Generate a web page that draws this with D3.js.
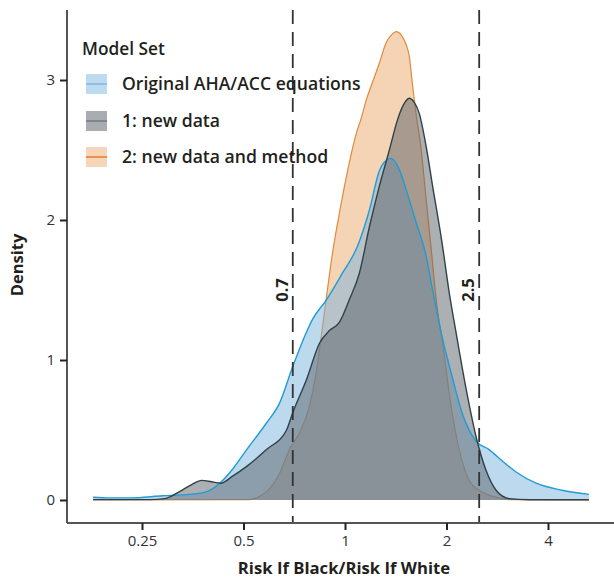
<!DOCTYPE html>
<html>
<head>
<meta charset="utf-8">
<script src="https://cdn.jsdelivr.net/npm/d3@7"></script>
<style>
  html, body { margin: 0; padding: 0; background: #fff; }
  svg { display: block; font-family: "Open Sans", sans-serif; }
</style>
</head>
<body>
<svg id="chart" width="614" height="580"></svg>
<script>
// Ratio of predicted risk (Black / White) and kernel density, per model set
const ratioOriginal = [0.179, 0.2005, 0.23, 0.288, 0.346, 0.389, 0.425, 0.464, 0.511, 0.585, 0.639, 0.699, 0.769, 0.801, 0.881, 0.982, 1.088, 1.181, 1.264, 1.317, 1.372, 1.449, 1.530, 1.627, 1.741, 1.802, 1.864, 1.903, 2.079, 2.226, 2.448, 2.676, 2.924, 3.216, 3.686, 4.40, 5.29];
const densityOriginal = [0.02, 0.015, 0.015, 0.03, 0.04, 0.06, 0.12, 0.22, 0.36, 0.55, 0.69, 0.95, 1.2, 1.29, 1.43, 1.62, 1.81, 2.07, 2.35, 2.42, 2.44, 2.36, 2.19, 1.98, 1.74, 1.55, 1.37, 1.26, 0.88, 0.62, 0.42, 0.36, 0.28, 0.2, 0.12, 0.07, 0.04];

const ratioNewData = [0.179, 0.264, 0.292, 0.323, 0.351, 0.376, 0.402, 0.428, 0.464, 0.511, 0.585, 0.671, 0.699, 0.769, 0.840, 0.899, 0.963, 1.030, 1.103, 1.181, 1.264, 1.354, 1.429, 1.489, 1.551, 1.605, 1.661, 1.742, 1.814, 1.942, 2.038, 2.137, 2.288, 2.449, 2.621, 2.806, 3.067, 3.514, 5.29];
const densityNewData = [0.003, 0.003, 0.01, 0.06, 0.11, 0.14, 0.13, 0.12, 0.17, 0.24, 0.36, 0.5, 0.62, 0.86, 1.12, 1.21, 1.27, 1.43, 1.62, 1.95, 2.24, 2.5, 2.71, 2.82, 2.87, 2.84, 2.76, 2.52, 2.26, 1.83, 1.48, 1.19, 0.79, 0.45, 0.21, 0.07, 0.01, 0.002, 0.002];

const ratioNewMethod = [0.179, 0.521, 0.551, 0.5853, 0.6396, 0.6844, 0.7329, 0.7846, 0.8229, 0.8514, 0.881, 0.9176, 0.9625, 1.0096, 1.0808, 1.1182, 1.157, 1.2053, 1.2642, 1.326, 1.372, 1.4195, 1.4687, 1.5197, 1.551, 1.583, 1.6158, 1.683, 1.7417, 1.802, 1.864, 1.942, 2.079, 2.181, 2.335, 2.499, 2.675, 2.806, 3.066, 5.29];
const densityNewMethod = [0, 0.003, 0.02, 0.06, 0.19, 0.36, 0.48, 0.67, 0.92, 1.18, 1.45, 1.76, 2.05, 2.31, 2.62, 2.73, 2.86, 2.98, 3.12, 3.27, 3.32, 3.345, 3.32, 3.25, 3.17, 2.98, 2.80, 2.5, 2.14, 1.79, 1.43, 1.14, 0.62, 0.36, 0.14, 0.07, 0.035, 0.02, 0.003, 0];

const legendLabels = ["Original AHA/ACC equations", "1: new data", "2: new data and method"];
const xTicks = [0.25, 0.5, 1, 2, 4];
const xTickLabels = ["0.25", "0.5", "1", "2", "4"];
const yTicks = [0, 1, 2, 3];
const cutoffs = [0.7, 2.5];
const cutoffLabels = ["0.7", "2.5"];

const svg = d3.select("#chart");

const x = d3.scaleLog().base(2).domain([0.25, 4]).range([142, 548]);
const y = d3.scaleLinear().domain([0, 3]).range([500, 80]);

const plotLeft = 67, plotRight = 614, plotTop = 10, plotBottom = 523;

const zip = (a, b) => a.map((v, i) => [v, b[i]]);

const series = {
  original: { data: zip(ratioOriginal, densityOriginal), fill: "#79b3dd", line: "#1f9bd7", keyFill: "#bddbf0", keyLine: "#8fc1e3" },
  newData: { data: zip(ratioNewData, densityNewData), fill: "#5b6167", line: "#2f4249", keyFill: "#a9adb1", keyLine: "#7f878b" },
  newMethod: { data: zip(ratioNewMethod, densityNewMethod), fill: "#eba76b", line: "#e08a3c", keyFill: "#f6d5b8", keyLine: "#e9924a" }
};

const area = d3.area()
  .x(d => x(d[0]))
  .y0(y(0))
  .y1(d => y(d[1]))
  .curve(d3.curveMonotoneX);

const line = d3.line()
  .x(d => x(d[0]))
  .y(d => y(d[1]))
  .curve(d3.curveMonotoneX);

const marks = svg.append("g");

// back layer: new data and method
marks.append("path").attr("d", area(series.newMethod.data))
  .attr("fill", series.newMethod.fill).attr("fill-opacity", 0.5);
marks.append("path").attr("d", line(series.newMethod.data))
  .attr("fill", "none").attr("stroke", series.newMethod.line).attr("stroke-width", 1.2);

// original equations
marks.append("path").attr("d", area(series.original.data))
  .attr("fill", series.original.fill).attr("fill-opacity", 0.5);

// new data
marks.append("path").attr("d", area(series.newData.data))
  .attr("fill", series.newData.fill).attr("fill-opacity", 0.5);

marks.append("path").attr("d", line(series.original.data))
  .attr("fill", "none").attr("stroke", series.original.line).attr("stroke-width", 1.4);
marks.append("path").attr("d", line(series.newData.data))
  .attr("fill", "none").attr("stroke", series.newData.line).attr("stroke-width", 1.4);

// cutoff reference lines
const cut = svg.append("g");
cut.selectAll("line").data(cutoffs).join("line")
  .attr("x1", d => x(d)).attr("x2", d => x(d))
  .attr("y1", plotTop).attr("y2", plotBottom)
  .attr("stroke", "#333").attr("stroke-width", 1.8)
  .attr("stroke-dasharray", "14,8");
cut.selectAll("text").data(cutoffs).join("text")
  .attr("transform", d => `translate(${x(d) - 5},${290}) rotate(-90)`)
  .attr("text-anchor", "middle")
  .attr("font-size", 16.5).attr("font-weight", 700).attr("fill", "#231f20")
  .text((d, i) => cutoffLabels[i]);

// axes
const xAxis = d3.axisBottom(x).tickValues(xTicks).tickFormat((d, i) => xTickLabels[i]).tickSize(7).tickSizeOuter(0);
const gx = svg.append("g").attr("transform", `translate(0,${plotBottom})`).call(xAxis);
gx.select(".domain").attr("d", `M${plotLeft},0H${plotRight}`).attr("stroke", "#555").attr("stroke-width", 2);
gx.selectAll(".tick line").attr("stroke", "#222").attr("stroke-width", 2);
gx.selectAll(".tick text").attr("font-size", 15).attr("fill", "#333").attr("dy", "0.71em").attr("y", 12)
  .attr("font-family", "Open Sans, sans-serif");

const yAxis = d3.axisLeft(y).tickValues(yTicks).tickFormat(d3.format("d")).tickSize(7).tickSizeOuter(0);
const gy = svg.append("g").attr("transform", `translate(${plotLeft},0)`).call(yAxis);
gy.select(".domain").attr("d", `M0,${plotTop}V${plotBottom}`).attr("stroke", "#555").attr("stroke-width", 2);
gy.selectAll(".tick line").attr("stroke", "#222").attr("stroke-width", 2);
gy.selectAll(".tick text").attr("font-size", 15).attr("fill", "#333").attr("x", -12)
  .attr("font-family", "Open Sans, sans-serif");

// axis titles
svg.append("text").attr("x", 344).attr("y", 574).attr("text-anchor", "middle")
  .attr("font-size", 16.7).attr("font-weight", 700).attr("fill", "#231f20")
  .text("Risk If Black/Risk If White");
svg.append("text").attr("transform", "translate(23,265) rotate(-90)").attr("text-anchor", "middle")
  .attr("font-size", 16.5).attr("font-weight", 700).attr("fill", "#231f20")
  .text("Density");

// legend
const legend = svg.append("g");
legend.append("text").attr("x", 82).attr("y", 55)
  .attr("font-size", 17.3).attr("font-weight", 600).attr("fill", "#231f20").text("Model Set");
const keys = [series.original, series.newData, series.newMethod];
const keyCenters = [84, 121, 157];
keys.forEach((s, i) => {
  const g = legend.append("g").attr("transform", `translate(86,${keyCenters[i]})`);
  g.append("rect").attr("x", 0).attr("y", -10).attr("width", 21).attr("height", 20).attr("fill", s.keyFill);
  g.append("line").attr("x1", 0).attr("x2", 21).attr("y1", 0).attr("y2", 0)
    .attr("stroke", s.keyLine).attr("stroke-width", 2);
  g.append("text").attr("x", 36).attr("y", 0).attr("dy", "0.36em")
    .attr("font-size", 17.6).attr("font-weight", 600).attr("fill", "#231f20").text(legendLabels[i]);
});
</script>
</body>
</html>
